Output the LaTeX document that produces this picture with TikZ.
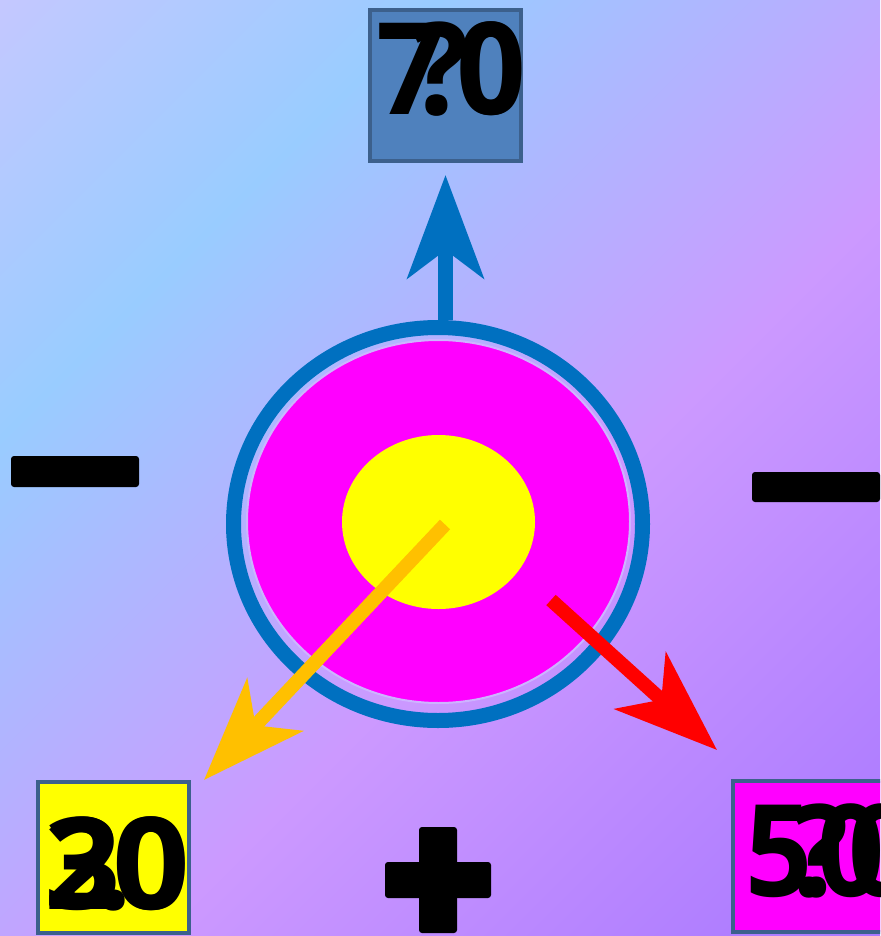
\documentclass[tikz,border=0pt]{standalone}
\usepackage{fontspec}
\usepackage{graphicx}
\usetikzlibrary{arrows.meta,shapes.geometric}
\newfontfamily\labfont{Open Sans}
\definecolor{bgA}{RGB}{196,200,255}
\definecolor{bgB}{RGB}{153,204,255}
\definecolor{bgC}{RGB}{204,153,255}
\definecolor{bgD}{RGB}{168,119,255}
\definecolor{ringblue}{RGB}{0,112,192}
\definecolor{boxblue}{RGB}{79,129,189}
\definecolor{boxedge}{RGB}{60,96,140}
\definecolor{arrorange}{RGB}{255,192,0}
\definecolor{gaplav}{RGB}{205,180,255}
\definecolor{pmag}{RGB}{255,0,255}
\definecolor{pyel}{RGB}{255,255,0}
\definecolor{pred}{RGB}{255,0,0}
\pgfdeclarehorizontalshading{bgshade}{100bp}{color(0bp)=(bgA); color(14.6bp)=(bgA); color(31.6bp)=(bgB); color(57.1bp)=(bgC); color(85.4bp)=(bgD); color(100bp)=(bgD)}
\tikzset{
  valbox/.style={rectangle, draw=boxedge, line width=4pt, minimum size=151pt, inner sep=0pt},
  lab/.style={font=\labfont\bfseries\fontsize{128}{128}\selectfont, inner sep=0pt, text=black},
  bigtip/.style={-{Stealth[length=103pt,width=76pt,inset=28pt]}},
  signbar/.style={fill=black, rounded corners=3pt},
}
\begin{document}
\begin{tikzpicture}[x=1pt,y=-1pt]
\useasboundingbox (0,0) rectangle (880,936);
\clip (0,0) rectangle (880,936);
\shade[shading=bgshade, shading angle=-45] (0,0) rectangle (880,936);

% central target
\node[ellipse, draw=ringblue, line width=15pt, minimum width=409pt, minimum height=393pt, inner sep=0pt] (ring) at (438,524) {};
\node[ellipse, fill=pmag, draw=gaplav, line width=2pt, minimum width=383pt, minimum height=363pt, inner sep=0pt] (disk) at (438.5,521.5) {};
\node[ellipse, fill=pyel, minimum width=193pt, minimum height=174pt, inner sep=0pt] (core) at (438.5,522) {};

% boxes
\node[valbox, fill=boxblue] (top) at (445.5,85.5) {};
\node[valbox, fill=pyel] (left) at (113,857) {};
\node[valbox, fill=pmag] (right) at (808.5,856.5) {};

% arrow anchors
\coordinate (bstart) at (445.5,320);
\coordinate (ostart) at (445,524.5);
\coordinate (otip) at (204,780);
\coordinate (rstart) at (551,600);
\coordinate (rtip) at (717,750);

\draw[bigtip, draw=ringblue, fill=ringblue, line width=15pt, shorten >=12pt] (bstart) -- (top.south);
\draw[bigtip, draw=arrorange, fill=arrorange, line width=14pt] (ostart) -- (otip);
\draw[bigtip, draw=pred, fill=pred, line width=14pt] (rstart) -- (rtip);

% labels
\node[lab, anchor=base west] (t1) at (376,115) {\scalebox{0.94}[1]{7\kern-0.2em.\kern0.02em0}};
\node[lab, anchor=base west] (t2) at (411,115) {\scalebox{0.94}[1]{?\kern-0.1em0}};
\node[lab, anchor=base west] (l1) at (44,909) {\scalebox{1.05}[1]{2\kern-0.2em.\kern-0.15em0}};
\node[lab, anchor=base west] (l2) at (44,909) {\scalebox{1.05}[1]{3\kern-0.06em0}};
\node[lab, anchor=base west] (r1) at (745,896) {\scalebox{0.92}[1]{5\kern-0.17em.\kern-0.07em0}};
\node[lab, anchor=base west] (r2) at (792,896) {\scalebox{0.92}[1]{?0}};

% signs
\fill[signbar] (11,456) rectangle (139,487);
\fill[signbar] (752,472) rectangle (880,502);
\fill[signbar] (419,827) rectangle (457,933);
\fill[signbar] (385,862) rectangle (491,898);
\end{tikzpicture}
\end{document}
